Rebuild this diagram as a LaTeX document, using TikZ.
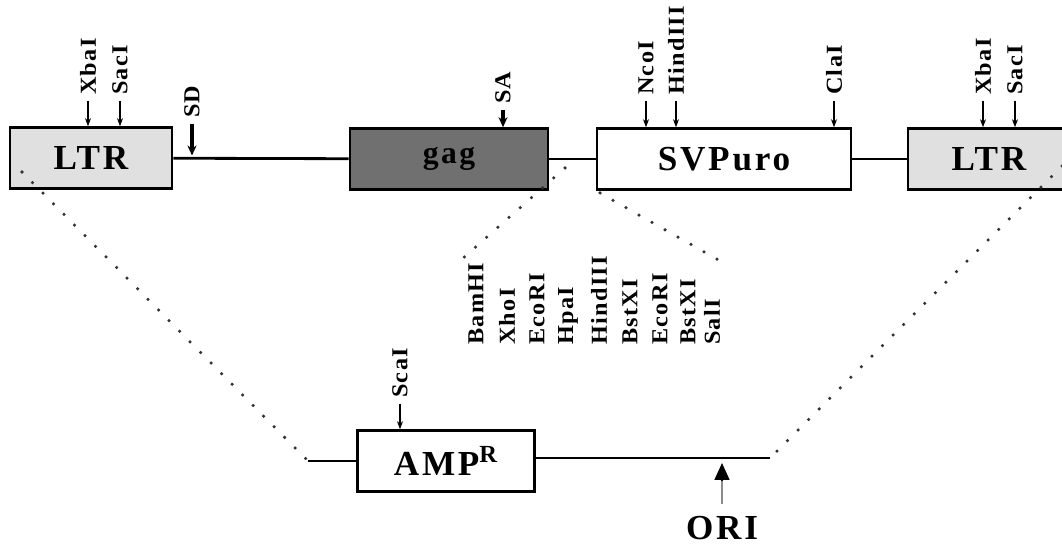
\documentclass[tikz,border=0pt]{standalone}
\usepackage{fontspec}
\setmainfont{Liberation Serif}
\newfontfamily\labfont[LetterSpace=6, FakeStretch=1.06]{Liberation Serif}
\newfontfamily\bigfont[LetterSpace=8]{Liberation Serif}
\definecolor{gagfill}{RGB}{112,112,112}
\definecolor{ltrfill}{RGB}{224,224,224}
\usetikzlibrary{arrows.meta, positioning}

\begin{document}
\begin{tikzpicture}[x=0.02cm, y=-0.02cm,
    box/.style={rectangle, draw, line width=1.5pt, minimum height=1.22cm,
                inner sep=0pt, font=\bigfont\bfseries\fontsize{20}{20}\selectfont},
    ltrbox/.style={box, fill=ltrfill, minimum width=3.24cm},
    gagbox/.style={box, fill=gagfill, text=black, minimum width=3.96cm,
                   font=\bigfont\bfseries\fontsize{18}{18}\selectfont},
    puro/.style={box, fill=white, minimum width=5.08cm},
    ampbox/.style={box, fill=white, minimum width=3.54cm},
    backbone/.style={line width=1.6pt},
    site/.style={-{Stealth[length=1.6mm, width=1.2mm]}, line width=0.6pt},
    splice/.style={-{Stealth[length=2mm, width=1.8mm]}, line width=1.8pt},
    enz/.style={rotate=90, anchor=west, inner sep=1pt,
                font=\labfont\bfseries\fontsize{13}{13}\selectfont},
    dots/.style={line width=2pt, line cap=round, dash pattern=on 0pt off 8.5pt, black!80}
  ]
    \useasboundingbox (0,0) rectangle (1062,547);

    \node[ltrbox] (ltrL) at (91,158) {LTR};
    \node[gagbox] (gag) at (449,159) {gag};
    \node[puro] (svpuro) at (724,159) {SVPuro};
    \node[ltrbox] (ltrR) at (989,159) {LTR};
    \node[ampbox] (amp) at (446,461) {AMP$^{\mathbf{R}}$};

    \draw[backbone] (ltrL) -- (gag);
    \draw[backbone] (gag) -- (svpuro);
    \draw[backbone] (svpuro) -- (ltrR);

    \coordinate (bl) at (308,461);
    \coordinate (br) at (770,458);
    \draw[backbone] (bl) -- (amp);
    \draw[backbone] (amp.east |- br) -- (br);

    % sites on the provirus
    \node[enz] (xba1) at (88,97) {XbaI};
    \node[enz] (sac1) at (120,97) {SacI};
    \node[enz] (nco) at (646,97) {NcoI};
    \node[enz] (hind) at (676,97) {HindIII};
    \node[enz] (cla) at (834,97) {ClaI};
    \node[enz] (xba2) at (983,97) {XbaI};
    \node[enz] (sac2) at (1015,97) {SacI};
    \foreach \s/\b in {xba1/ltrL, sac1/ltrL, nco/svpuro, hind/svpuro, cla/svpuro,
                       xba2/ltrR, sac2/ltrR}
      \draw[site] ([yshift=-2pt]\s.west) -- (\s.west |- \b.north);

    \node[enz] (sd) at (192,120) {SD};
    \node[enz] (sa) at (503,106) {SA};
    \draw[splice] ([yshift=-2pt]sd.west) -- ++(0,32);
    \draw[splice] ([yshift=-2pt]sa.west) -- (sa.west |- gag.north);

    % polylinker
    \foreach \x/\t [count=\i] in {476/BamHI, 507/XhoI, 537/EcoRI, 568/HpaI, 599/HindIII,
                                  630/BstXI, 660/EcoRI, 688/BstXI, 712/SalI}
      \node[enz] (mcs\i) at (\x,347) {\t};

    \node[enz] (sca) at (400,400) {ScaI};
    \draw[site] ([yshift=-2pt]sca.west) -- (sca.west |- amp.north);

    \node[font=\bigfont\bfseries\fontsize{20}{20}\selectfont] (ori) at (722,528) {ORI};
    \draw[black!45, line width=0.9pt] (ori.north) ++(0,-6) -- ++(0,-24) coordinate (oritip);
    \draw[-{Triangle[length=3.4mm, width=3mm]}, line width=0.9pt] (oritip) -- ++(0,-17) coordinate (orihead);

    % insert and vector junctions
    \coordinate (c1) at (22,172);
    \coordinate (c2) at (1062,166);
    \coordinate (c3) at (565,168);
    \coordinate (c4) at (462,259);
    \coordinate (c5) at (600,193);
    \coordinate (c6) at (722,262);
    \draw[dots] (c1) -- (bl);
    \draw[dots] (c2) -- (br);
    \draw[dots] (c3) -- (c4);
    \draw[dots] (c5) -- (c6);
  \end{tikzpicture}
\end{document}
